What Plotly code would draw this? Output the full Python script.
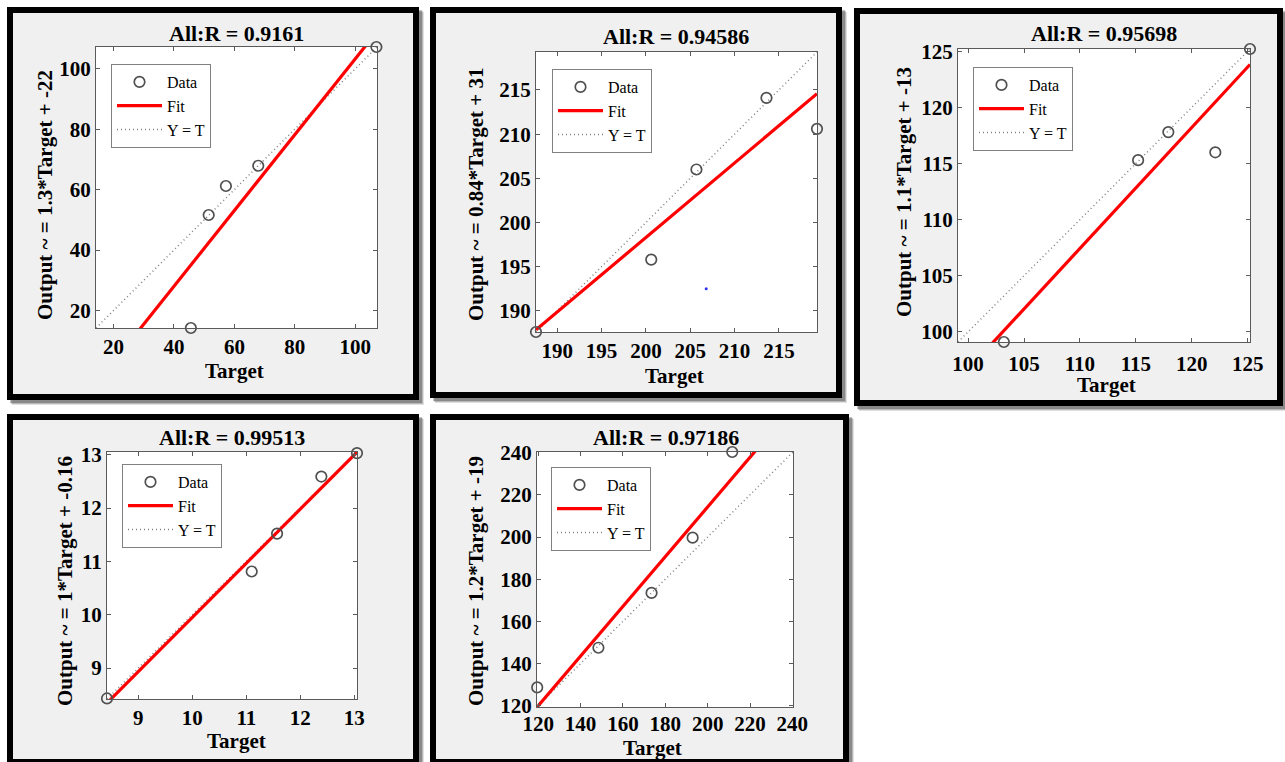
import numpy as np
import plotly.graph_objects as go

W, H = 1285, 762

# ---------------- data ----------------
p1_target = [45.6, 51.5, 57.2, 67.9, 107.0]
p1_output = [14.2, 51.6, 61.2, 67.9, 107.2]

p2_target = [187.6, 200.6, 205.7, 213.6, 219.3]
p2_output = [187.6, 195.8, 206.0, 214.1, 210.6]
p2_speck_target = [206.8]
p2_speck_output = [192.5]

p3_target = [103.2, 115.2, 117.9, 122.1, 125.2]
p3_output = [99.1, 115.3, 117.8, 116.0, 125.2]

p4_target = [8.42, 11.10, 11.57, 12.39, 13.05]
p4_output = [8.43, 10.81, 11.52, 12.59, 13.03]

p5_target = [119.5, 148.4, 173.5, 192.9, 211.6]
p5_output = [128.7, 147.5, 173.5, 199.7, 240.3]

titles = ["All:R = 0.9161", "All:R = 0.94586", "All:R = 0.95698",
          "All:R = 0.99513", "All:R = 0.97186"]
ylabels = ["Output ~ = 1.3*Target + -22", "Output ~ = 0.84*Target + 31",
           "Output ~ = 1.1*Target + -13", "Output ~ = 1*Target + -0.16",
           "Output ~ = 1.2*Target + -19"]
xlabel = "Target"

axis_limits = [[14.2, 107.2], [187.6, 219.3], [99.1, 125.2], [8.42, 13.05], [119.4, 240.3]]
tick_values = [[20, 40, 60, 80, 100],
               [190, 195, 200, 205, 210, 215],
               [100, 105, 110, 115, 120, 125],
               [9, 10, 11, 12, 13],
               [120, 140, 160, 180, 200, 220, 240]]

panels = [(p1_target, p1_output), (p2_target, p2_output), (p3_target, p3_output),
          (p4_target, p4_output), (p5_target, p5_output)]

# ---------------- layout geometry (pixels) ----------------
frames = [(7, 7, 419, 400), (430, 7, 842, 398), (854, 8, 1283, 406),
          (7, 414, 419, 765), (430, 414, 849, 765)]
boxes = [(96, 47, 377, 328), (536, 52, 817, 332), (958, 49, 1250, 342),
         (107, 452, 357, 699), (537, 452, 793, 707)]
title_pos = [(236, 33), (676, 36), (1104, 33), (232, 437), (666, 437)]
xlabel_pos = [(235, 371), (674, 376), (1106, 385), (236, 741), (652, 748)]
ylabel_pos = [(45, 195), (476, 195), (904, 192), (65, 581), (476, 581)]
legend_pos = [(111, 64), (552, 69), (973, 67), (122, 464), (551, 467)]
xtick_standoff = [0, 0, 3, 0, -2]

FONT = "Liberation Serif"


def px(x):
    return x / W


def py(y):
    return 1 - y / H


fig = go.Figure()
shapes = []
annotations = []
layout_axes = {}

# panel frames with shadow
for (x0, y0, x1, y1) in frames:
    for off, a in [(5, 0.12), (4, 0.18), (3, 0.25)]:
        shapes.append(dict(type="rect", xref="paper", yref="paper",
                           x0=px(x0 + off), x1=px(x1 + off), y0=py(y1 + off), y1=py(y0 + off),
                           line=dict(width=0), fillcolor=f"rgba(0,0,0,{a})", layer="below"))
    shapes.append(dict(type="rect", xref="paper", yref="paper",
                       x0=px(x0 + 3), x1=px(x1 - 3), y0=py(y1 - 3), y1=py(y0 + 3),
                       line=dict(width=6, color="black"), fillcolor="#f0f0f0", layer="below"))

for i, ((tgt, out), lim, tv) in enumerate(zip(panels, axis_limits, tick_values)):
    n = i + 1
    xa = "x" if n == 1 else f"x{n}"
    ya = "y" if n == 1 else f"y{n}"
    leg = "legend" if n == 1 else f"legend{n}"
    bx0, by0, bx1, by1 = boxes[i]

    axis_common = dict(range=lim, tickvals=tv, showgrid=False, zeroline=False,
                       showline=True, linecolor="#5a5a5a", linewidth=1, mirror="ticks",
                       ticks="inside", ticklen=4, tickcolor="#5a5a5a", automargin=False,
                       tickfont=dict(family=FONT, size=21, color="black", weight="bold"))
    layout_axes["xaxis" if n == 1 else f"xaxis{n}"] = dict(
        axis_common, domain=[px(bx0), px(bx1)], anchor=ya,
        ticklabelstandoff=xtick_standoff[i])
    layout_axes["yaxis" if n == 1 else f"yaxis{n}"] = dict(
        axis_common, domain=[py(by1), py(by0)], anchor=xa)

    # white axes background
    shapes.append(dict(type="rect", xref=f"{xa} domain", yref=f"{ya} domain",
                       x0=0, x1=1, y0=0, y1=1, fillcolor="white",
                       line=dict(width=0), layer="below"))

    slope, intercept = np.polyfit(tgt, out, 1)
    xs = np.array(lim)

    fig.add_trace(go.Scatter(x=xs, y=xs, mode="lines", name="Y = T",
                             line=dict(color="#808080", width=1.5, dash="1px,3px"),
                             xaxis=xa, yaxis=ya, legend=leg, legendrank=3))
    fig.add_trace(go.Scatter(x=xs, y=slope * xs + intercept, mode="lines", name="Fit",
                             line=dict(color="#ff0000", width=3.2),
                             xaxis=xa, yaxis=ya, legend=leg, legendrank=2))
    fig.add_trace(go.Scatter(x=tgt, y=out, mode="markers", name="Data",
                             marker=dict(symbol="circle-open", size=10.5,
                                         line=dict(color="#505050", width=1.7),
                                         color="#505050"),
                             cliponaxis=False,
                             xaxis=xa, yaxis=ya, legend=leg, legendrank=1))
    if n == 2:
        fig.add_trace(go.Scatter(x=p2_speck_target, y=p2_speck_output, mode="markers",
                                 marker=dict(color="#3030ff", size=3), showlegend=False,
                                 xaxis=xa, yaxis=ya))

    layout_axes[leg] = dict(x=px(legend_pos[i][0]), y=py(legend_pos[i][1]),
                            xanchor="left", yanchor="top", bgcolor="white",
                            bordercolor="#808080", borderwidth=1, itemwidth=45,
                            tracegroupgap=0,
                            font=dict(family=FONT, size=16, color="black"))

    tx, ty = title_pos[i]
    annotations.append(dict(text=titles[i], x=px(tx), y=py(ty), xref="paper", yref="paper",
                            showarrow=False, xanchor="center", yanchor="middle",
                            font=dict(family=FONT, size=22, color="black", weight="bold")))
    lx, ly = xlabel_pos[i]
    annotations.append(dict(text=xlabel, x=px(lx), y=py(ly), xref="paper", yref="paper",
                            showarrow=False, xanchor="center", yanchor="middle",
                            font=dict(family=FONT, size=21, color="black", weight="bold")))
    yx, yy = ylabel_pos[i]
    annotations.append(dict(text=ylabels[i], x=px(yx), y=py(yy), xref="paper", yref="paper",
                            showarrow=False, xanchor="center", yanchor="middle", textangle=-90,
                            font=dict(family=FONT, size=21, color="black", weight="bold")))

fig.update_layout(template="none", width=W, height=H, autosize=False,
                  margin=dict(l=0, r=0, t=0, b=0, pad=0, autoexpand=False),
                  paper_bgcolor="white", plot_bgcolor="white",
                  showlegend=True, shapes=shapes, annotations=annotations,
                  **layout_axes)

fig.write_html("out.html", config={"displayModeBar": False},
               post_script="document.body.style.margin='0';document.body.style.overflow='hidden';")
